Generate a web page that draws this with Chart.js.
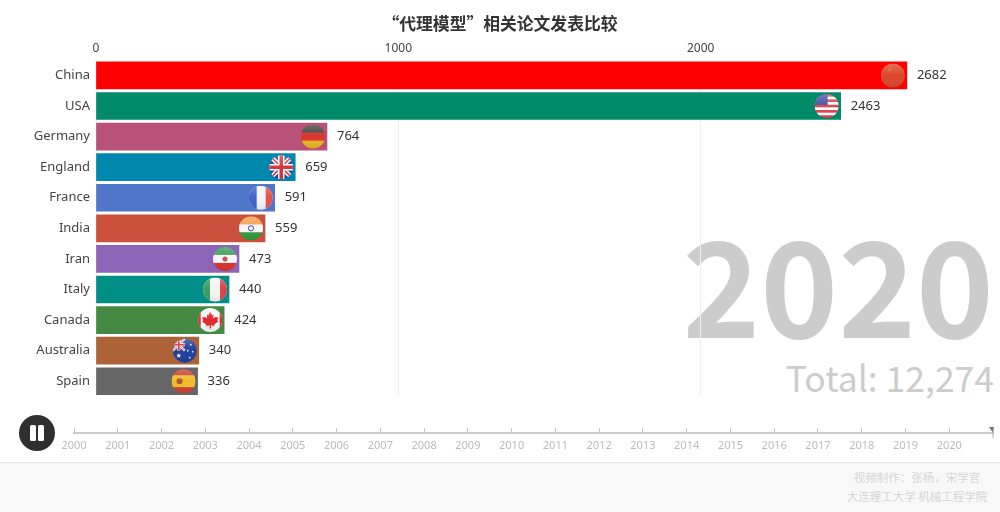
<!DOCTYPE html>
<html>
<head>
<meta charset="utf-8">
<script src="https://cdn.jsdelivr.net/npm/chart.js@4/dist/chart.umd.min.js"></script>
<style>
    html, body { margin: 0; padding: 0; background: #fff; }
    #page { position: relative; width: 1000px; height: 512px; overflow: hidden; font-family: "Noto Sans", "Noto Sans CJK SC", sans-serif; }
    #page canvas { position: absolute; left: 0; }
    #barChart { top: 0; }
    #timeline { top: 420px; }
    #year { position: absolute; right: 6px; top: 188px; font-family: "Noto Sans CJK SC", sans-serif; font-size: 132px; line-height: 186px; font-weight: 700; color: #ccc; }
    #total { position: absolute; right: 6px; top: 353px; font-family: "Noto Sans CJK SC", sans-serif; font-size: 35.5px; line-height: 48px; color: #ccc; }
    #footer { position: absolute; left: 0; right: 0; top: 462px; bottom: 0; background: #f8f8f8; border-top: 1px solid #e8e8e8; }
    #credit { position: absolute; left: 817px; width: 200px; top: 468px; font-family: "Noto Sans CJK SC", sans-serif; font-size: 11.5px; line-height: 19px; color: #d6d6d6; text-align: center; }
    #pause { position: absolute; left: 19px; top: 415px; width: 36px; height: 36px; border-radius: 50%; background: #2f2f2f; }
    #pause span { position: absolute; top: 10px; width: 6px; height: 16px; border-radius: 1.5px; background: #fff; }
</style>
</head>
<body>
<div id="page">
    <div id="year"></div>
    <div id="total"></div>
    <div id="footer"></div>
    <div id="credit">视频制作：张杨，宋学官<br>大连理工大学 机械工程学院</div>
    <canvas id="barChart" width="1000" height="512"></canvas>
    <canvas id="timeline" width="1000" height="42"></canvas>
    <div id="pause"><span style="left:11px"></span><span style="left:19px"></span></div>
</div>
<script>
const chartTitle = "“代理模型”相关论文发表比较";
const countries = ["China", "USA", "Germany", "England", "France", "India", "Iran", "Italy", "Canada", "Australia", "Spain"];
const papers = [2682, 2463, 764, 659, 591, 559, 473, 440, 424, 340, 336];
const barColors = ["#ff0000", "#008a68", "#b85278", "#0087ad", "#4f76c8", "#cb503c", "#8c64b8", "#008f86", "#458a42", "#ad6238", "#666666"];
const xTicks = [0, 1000, 2000];
const xMax = 2990;
const years = [2000, 2001, 2002, 2003, 2004, 2005, 2006, 2007, 2008, 2009, 2010, 2011, 2012, 2013, 2014, 2015, 2016, 2017, 2018, 2019, 2020];
const timelineEnd = 2021;
const currentYear = "2020";
const totalText = "Total: 12,274";

document.getElementById("year").textContent = currentYear;
document.getElementById("total").textContent = totalText;

// Flags are painted in a box of -12..12 around the centre of the circle
function hStripes(ctx, colors) {
    const h = 24 / colors.length;
    colors.forEach((c, i) => { ctx.fillStyle = c; ctx.fillRect(-12, -12 + i * h, 24, h + 0.5); });
}
function star(ctx, x, y, r, color) {
    ctx.fillStyle = color;
    ctx.beginPath();
    for (let i = 0; i < 10; i++) {
        const a = -Math.PI / 2 + i * Math.PI / 5;
        const rr = i % 2 ? r * 0.45 : r;
        ctx.lineTo(x + rr * Math.cos(a), y + rr * Math.sin(a));
    }
    ctx.closePath();
    ctx.fill();
}
function line(ctx, color, width, x1, y1, x2, y2) {
    ctx.strokeStyle = color;
    ctx.lineWidth = width;
    ctx.beginPath();
    ctx.moveTo(x1, y1);
    ctx.lineTo(x2, y2);
    ctx.stroke();
}
function unionJack(ctx, s) {
    line(ctx, "#fff", 4.5 * s, -12 * s, -12 * s, 12 * s, 12 * s);
    line(ctx, "#fff", 4.5 * s, -12 * s, 12 * s, 12 * s, -12 * s);
    line(ctx, "#d8343c", 1.6 * s, -12 * s, -12 * s, 12 * s, 12 * s);
    line(ctx, "#d8343c", 1.6 * s, -12 * s, 12 * s, 12 * s, -12 * s);
    line(ctx, "#fff", 6.5 * s, 0, -12 * s, 0, 12 * s);
    line(ctx, "#fff", 6.5 * s, -12 * s, 0, 12 * s, 0);
    line(ctx, "#d8343c", 3.5 * s, 0, -12 * s, 0, 12 * s);
    line(ctx, "#d8343c", 3.5 * s, -12 * s, 0, 12 * s, 0);
}
function mapleLeaf(ctx, color) {
    const outline = [[0, -8], [2, -4.5], [3.5, -5.5], [3, -1.5], [5, -3], [8, -2.5], [7, 0.5], [8, 1.5], [4, 4.5], [4.5, 6], [0.7, 5.2], [0.7, 8.5], [-0.7, 8.5], [-0.7, 5.2], [-4.5, 6], [-4, 4.5], [-8, 1.5], [-7, 0.5], [-8, -2.5], [-5, -3], [-3, -1.5], [-3.5, -5.5], [-2, -4.5]];
    ctx.fillStyle = color;
    ctx.beginPath();
    outline.forEach(p => ctx.lineTo(p[0], p[1]));
    ctx.closePath();
    ctx.fill();
}

const flags = {
    China(ctx) {
        hStripes(ctx, ["#d9482c"]);
        star(ctx, -3, -6, 2.5, "#e4683a");
        star(ctx, 3, -3, 1, "#e4683a");
    },
    USA(ctx) {
        hStripes(ctx, ["#e0474f", "#fff", "#e0474f", "#fff", "#e0474f", "#fff", "#e0474f", "#fff", "#e0474f"]);
        ctx.fillStyle = "#4a55a8";
        ctx.fillRect(-12, -12, 13, 11);
    },
    Germany(ctx) { hStripes(ctx, ["#454545", "#d8352c", "#e8b522"]); },
    England(ctx) {
        hStripes(ctx, ["#1f4a9c"]);
        unionJack(ctx, 1);
    },
    France(ctx) {
        hStripes(ctx, ["#f4f4f8"]);
        ctx.fillStyle = "#3f63c8";
        ctx.fillRect(-12, -12, 8, 24);
        ctx.fillStyle = "#e2524c";
        ctx.fillRect(5, -12, 7, 24);
    },
    India(ctx) {
        hStripes(ctx, ["#f2a04e", "#f6f6f6", "#2e9a3a"]);
        ctx.strokeStyle = "#3d4a9a";
        ctx.lineWidth = 1;
        ctx.beginPath();
        ctx.arc(0, 0, 2.6, 0, Math.PI * 2);
        ctx.stroke();
    },
    Iran(ctx) {
        hStripes(ctx, ["#3f9d5a", "#f6f6f6", "#d8342c"]);
        ctx.fillStyle = "#c4505a";
        ctx.beginPath();
        ctx.arc(0, 0, 2.5, 0, Math.PI * 2);
        ctx.fill();
    },
    Italy(ctx) {
        hStripes(ctx, ["#f4f4f4"]);
        ctx.fillStyle = "#3b9e5c";
        ctx.fillRect(-12, -12, 7, 24);
        ctx.fillStyle = "#d8434a";
        ctx.fillRect(5, -12, 7, 24);
    },
    Canada(ctx) {
        hStripes(ctx, ["#f6f6f6"]);
        ctx.fillStyle = "#e0282c";
        ctx.fillRect(-12, -12, 2.5, 24);
        ctx.fillRect(9.5, -12, 2.5, 24);
        mapleLeaf(ctx, "#e0282c");
    },
    Australia(ctx) {
        hStripes(ctx, ["#1f3f9c"]);
        ctx.save();
        ctx.translate(-6, -6);
        unionJack(ctx, 0.5);
        ctx.restore();
        star(ctx, -6, 5, 2.6, "#fff");
        star(ctx, 6, -6, 1.4, "#fff");
        star(ctx, 3, 0, 1.4, "#fff");
        star(ctx, 8, 1, 1.4, "#fff");
        star(ctx, 5, 7, 1.4, "#fff");
    },
    Spain(ctx) {
        hStripes(ctx, ["#cf3f34", "#f0bd2c", "#f0bd2c", "#cf3f34"]);
        ctx.fillStyle = "#b5562e";
        ctx.beginPath();
        ctx.arc(-4, 0, 3, 0, Math.PI * 2);
        ctx.fill();
    }
};

// Value labels and round flags at the end of each bar
const barEndPlugin = {
    id: "barEnd",
    afterDatasetsDraw(chart) {
        const ctx = chart.ctx;
        chart.getDatasetMeta(0).data.forEach((bar, i) => {
            ctx.save();
            ctx.translate(bar.x - 14, bar.y);
            ctx.beginPath();
            ctx.arc(0, 0, 12, 0, Math.PI * 2);
            ctx.clip();
            flags[countries[i]](ctx);
            const gloss = ctx.createLinearGradient(0, -12, 0, 12);
            gloss.addColorStop(0, "rgba(255,255,255,0.22)");
            gloss.addColorStop(0.5, "rgba(255,255,255,0)");
            gloss.addColorStop(1, "rgba(0,0,0,0.08)");
            ctx.fillStyle = gloss;
            ctx.fillRect(-12, -12, 24, 24);
            ctx.restore();

            ctx.save();
            ctx.font = '13px "Noto Sans", sans-serif';
            ctx.fillStyle = "#333";
            ctx.textAlign = "left";
            ctx.textBaseline = "middle";
            ctx.fillText(String(papers[i]), bar.x + 10, bar.y);
            ctx.restore();
        });
    }
};

new Chart(document.getElementById("barChart"), {
    type: "bar",
    data: {
        labels: countries,
        datasets: [{
            data: papers,
            backgroundColor: barColors,
            barThickness: 27,
            borderWidth: 0
        }]
    },
    options: {
        indexAxis: "y",
        responsive: false,
        animation: false,
        layout: { padding: { left: 0, right: 0, top: 0, bottom: 115.5 } },
        scales: {
            x: {
                position: "top",
                min: 0,
                max: xMax,
                afterBuildTicks: scale => { scale.ticks = xTicks.map(v => ({ value: v })); },
                ticks: {
                    color: "#444",
                    padding: 4,
                    maxRotation: 0,
                    font: { family: '"Noto Sans", sans-serif', size: 12 },
                    callback: v => String(v)
                },
                grid: { color: "#eeeeee", drawTicks: false },
                border: { display: false },
                afterFit: scale => { scale.height = 20; }
            },
            y: {
                ticks: { color: "#444", padding: 6, font: { family: '"Noto Sans", sans-serif', size: 13 } },
                grid: { display: false, drawTicks: false },
                border: { display: false },
                afterFit: scale => { scale.width = 96; }
            }
        },
        plugins: {
            legend: { display: false },
            tooltip: { enabled: false },
            title: {
                display: true,
                text: chartTitle,
                color: "#333",
                font: { family: '"Noto Sans CJK SC", sans-serif', size: 16.8, weight: "bold" },
                padding: { top: 14, bottom: 6 }
            }
        }
    },
    plugins: [barEndPlugin]
});

// Small marker at the far end of the timeline
const markerPlugin = {
    id: "marker",
    afterDraw(chart) {
        const ctx = chart.ctx;
        const x = chart.scales.x.getPixelForValue(timelineEnd);
        const y = chart.chartArea.bottom;
        ctx.save();
        ctx.fillStyle = "#777";
        ctx.beginPath();
        ctx.moveTo(x - 4, y - 6);
        ctx.lineTo(x + 1, y - 6);
        ctx.lineTo(x, y);
        ctx.closePath();
        ctx.fill();
        ctx.strokeStyle = "#aaa";
        ctx.beginPath();
        ctx.moveTo(x, y - 2);
        ctx.lineTo(x, y + 5);
        ctx.stroke();
        ctx.restore();
    }
};

new Chart(document.getElementById("timeline"), {
    type: "line",
    data: { labels: [], datasets: [{ data: [] }] },
    options: {
        responsive: false,
        animation: false,
        layout: { padding: { left: 74, right: 7, top: 8, bottom: 0 } },
        scales: {
            x: {
                type: "linear",
                position: "bottom",
                min: years[0],
                max: timelineEnd,
                afterBuildTicks: scale => { scale.ticks = years.map(v => ({ value: v })); },
                ticks: {
                    color: "#bbb",
                    padding: 6,
                    maxRotation: 0,
                    autoSkip: false,
                    font: { family: '"Noto Sans", sans-serif', size: 11 },
                    callback: v => String(v)
                },
                grid: { color: "#c8c8c8", drawTicks: false },
                border: { color: "#cccccc", width: 2 },
                afterFit: scale => { scale.height = 29; }
            },
            y: { display: false }
        },
        plugins: { legend: { display: false }, tooltip: { enabled: false } }
    },
    plugins: [markerPlugin]
});
</script>
</body>
</html>
